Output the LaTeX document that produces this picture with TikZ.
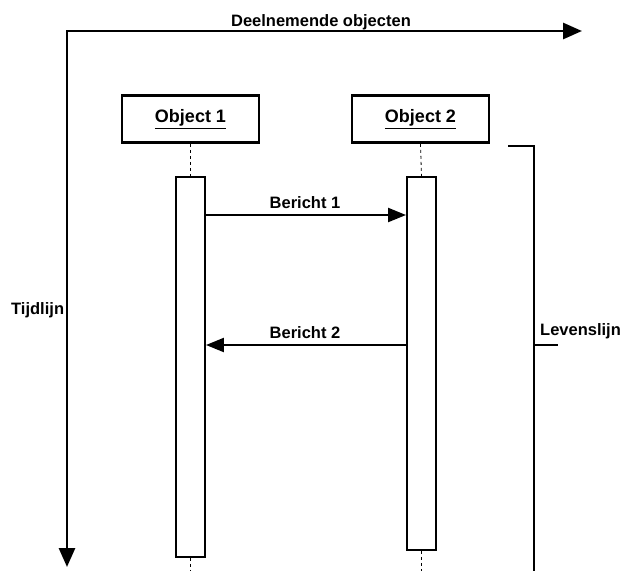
\documentclass[tikz,border=0pt]{standalone}
\usepackage{fontspec}
\setmainfont{Liberation Sans}
\usetikzlibrary{arrows.meta}
\begin{document}
\begin{tikzpicture}[x=1pt,y=-1pt,
  lbl/.style={font=\fontsize{16.5}{19}\selectfont\bfseries, inner sep=0pt},
  objbox/.style={draw, line width=2.8pt, minimum width=137pt, minimum height=47pt,
    inner sep=0pt, font=\fontsize{18}{21}\selectfont\bfseries},
  actbox/.style={draw, line width=2.4pt, minimum width=28.5pt, inner sep=0pt, fill=white},
  axis/.style={line width=2.8pt, line cap=rect, -{Triangle[length=19pt,width=16pt]}},
  msg/.style={line width=2.2pt, -{Triangle[length=18pt,width=14pt]}},
  life/.style={line width=0.8pt, dash pattern=on 3pt off 3pt},
  bracket/.style={line width=2.6pt}]
\useasboundingbox (0,0) rectangle (624,571);

% axes
\coordinate (origin) at (67,31);
\coordinate (xend) at (582,31);
\coordinate (yend) at (67,567);
\draw[axis] (origin) -- (xend);
\draw[axis] (origin) -- (yend);
\node[lbl, anchor=base] (xlabel) at (321,26) {Deelnemende objecten};
\node[lbl, anchor=base west] (ylabel) at (11,314) {Tijdlijn};

% objects
\node[objbox] (o1) at (190.5,119) {\underline{Object 1}};
\node[objbox] (o2) at (420.5,119) {\underline{Object 2}};

% activation bars
\node[actbox, minimum height=379.5pt] (a1) at (190.5,367) {};
\node[actbox, minimum height=372.5pt] (a2) at (421.5,363.5) {};

% lifelines
\coordinate (l1) at (190.5,571);
\coordinate (l2) at (421.5,571);
\draw[life] (o1.south) -- (a1.north);
\draw[life] (o2.south) -- (a2.north);
\draw[life] (a1.south) -- (l1);
\draw[life] (a2.south) -- (l2);

% messages
\coordinate (m1) at (0,215);
\coordinate (m2) at (0,345);
\draw[msg] (a1.east |- m1) -- (a2.west |- m1);
\draw[msg] (a2.west |- m2) -- (a1.east |- m2);
\node[lbl, anchor=base] (b1) at (305,208) {Bericht 1};
\node[lbl, anchor=base] (b2) at (305,338) {Bericht 2};

% lifeline bracket
\coordinate (bt) at (508,146);
\coordinate (bc) at (534,146);
\coordinate (bb) at (534,571);
\coordinate (tk) at (558,345);
\draw[bracket] (bt) -- (bc) -- (bb);
\draw[bracket] (bc |- tk) -- (tk);
\node[lbl, anchor=base west] (lv) at (540,335) {Levenslijn};
\end{tikzpicture}
\end{document}
